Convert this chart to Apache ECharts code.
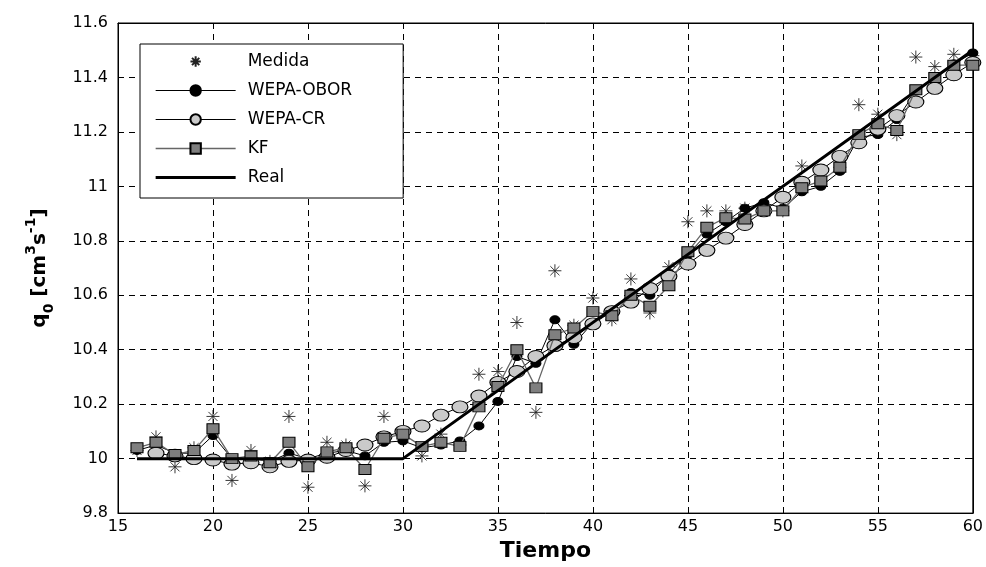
<!DOCTYPE html>
<html>
<head>
<meta charset="utf-8">
<script src="https://cdn.jsdelivr.net/npm/echarts@6/dist/echarts.min.js"></script>
<style>
html,body{margin:0;padding:0;background:#fff;}
#chart{width:986px;height:567px;}
</style>
</head>
<body>
<div id="chart"></div>
<script>
const tiempo = [16,17,18,19,20,21,22,23,24,25,26,27,28,29,30,31,32,33,34,35,36,37,38,39,40,41,42,43,44,45,46,47,48,49,50,51,52,53,54,55,56,57,58,59,60];
const medida = [10.03,10.08,9.97,10.04,10.155,9.92,10.03,9.99,10.155,9.895,10.06,10.05,9.90,10.155,10.08,10.01,10.09,10.05,10.31,10.32,10.50,10.17,10.69,10.49,10.59,10.51,10.66,10.535,10.705,10.87,10.91,10.91,10.92,10.93,10.91,11.075,11.02,11.07,11.30,11.265,11.19,11.475,11.44,11.485,11.48];
const wepaObor = [10.03,10.05,10.02,10.02,10.085,10.0,10.0,9.99,10.02,10.0,10.02,10.03,10.01,10.06,10.065,10.04,10.05,10.065,10.12,10.21,10.375,10.35,10.51,10.42,10.50,10.54,10.61,10.60,10.68,10.75,10.825,10.87,10.92,10.94,10.92,10.98,11.00,11.055,11.18,11.19,11.245,11.35,11.40,11.45,11.49];
const wepaCr = [null,10.02,10.01,10.00,9.995,9.98,9.985,9.97,9.99,9.995,10.005,10.03,10.05,10.08,10.10,10.12,10.16,10.19,10.23,10.28,10.32,10.375,10.415,10.445,10.495,10.54,10.575,10.625,10.67,10.715,10.765,10.81,10.86,10.91,10.96,11.015,11.06,11.11,11.16,11.21,11.26,11.31,11.36,11.41,11.455];
const kf = [10.04,10.06,10.015,10.03,10.11,10.0,10.01,9.985,10.06,9.97,10.025,10.04,9.96,10.075,10.09,10.045,10.06,10.045,10.19,10.265,10.40,10.26,10.455,10.48,10.54,10.525,10.60,10.56,10.635,10.76,10.85,10.885,10.88,10.91,10.91,10.995,11.02,11.07,11.19,11.23,11.205,11.355,11.40,11.445,11.445];
const realT = [16,30,60];
const realV = [10,10,11.5];
const seriesNames = ['Medida','WEPA-OBOR','WEPA-CR','KF','Real'];
const xTicks = {min:15,max:60,interval:5};
const yTicks = {min:9.8,max:11.6,interval:0.2};

const pair = (xs, ys) => xs.map((x,i) => [x, ys[i]]);
const FONT = 'DejaVu Sans';
const starPath = 'path://M10,0L10,20M0,10L20,10M3,3L17,17M3,17L17,3';
const realIcon = 'path://M0,0M0,5L80,5L80,8L0,8ZM80,13';

const chart = echarts.init(document.getElementById('chart'), null, {renderer:'canvas'});
chart.setOption({
  animation:false,
  backgroundColor:'#fff',
  grid:{left:118,right:13,top:23,bottom:52,show:true,borderColor:'#000',borderWidth:1,backgroundColor:'transparent'},
  legend:{
    orient:'vertical', left:140, top:44,
    itemWidth:80, itemHeight:13, itemGap:12,
    padding:[9,51,12,15],
    borderColor:'#000', borderWidth:1, backgroundColor:'#fff',
    lineStyle:{width:'inherit'},
    textStyle:{fontFamily:FONT,fontSize:17,color:'#000',padding:[0,0,0,7]},
    data:[
      {name:seriesNames[0]},
      {name:seriesNames[1]},
      {name:seriesNames[2]},
      {name:seriesNames[3]},
      {name:seriesNames[4], icon:realIcon}
    ]
  },
  xAxis:[{
    type:'value', min:xTicks.min, max:xTicks.max, interval:xTicks.interval,
    name:'Tiempo', nameLocation:'middle', nameGap:25,
    nameTextStyle:{fontFamily:FONT,fontWeight:'bold',fontSize:22,color:'#000'},
    axisLine:{show:true,lineStyle:{color:'#000',width:1}},
    axisTick:{show:true,inside:true,length:5,lineStyle:{color:'#000'}},
    axisLabel:{fontFamily:FONT,fontSize:16,color:'#000',margin:6},
    splitLine:{show:true,lineStyle:{color:'#000',type:[6,5],width:1}}
  },{
    type:'value', position:'top', min:xTicks.min, max:xTicks.max, interval:xTicks.interval,
    axisLine:{show:true,lineStyle:{color:'#000'}},
    axisTick:{show:true,inside:true,length:5,lineStyle:{color:'#000'}},
    axisLabel:{show:false}, splitLine:{show:false}
  }],
  yAxis:[{
    type:'value', min:yTicks.min, max:yTicks.max, interval:yTicks.interval,
    name:'{a|q}{s|0}{a| [cm}{p|3}{a|s}{p|-1}{a|]}', nameLocation:'middle', nameGap:62,
    nameTextStyle:{
      fontFamily:FONT,fontWeight:'bold',fontSize:20,color:'#000',
      rich:{
        a:{fontFamily:FONT,fontWeight:'bold',fontSize:20,color:'#000',lineHeight:32,verticalAlign:'middle'},
        s:{fontFamily:FONT,fontWeight:'bold',fontSize:14,color:'#000',lineHeight:14,verticalAlign:'bottom'},
        p:{fontFamily:FONT,fontWeight:'bold',fontSize:14,color:'#000',lineHeight:14,verticalAlign:'top'}
      }
    },
    axisLine:{show:true,lineStyle:{color:'#000',width:1}},
    axisTick:{show:true,inside:true,length:5,lineStyle:{color:'#000'}},
    axisLabel:{fontFamily:FONT,fontSize:16,color:'#000',margin:10,
      formatter:v => String(Math.round(v*10)/10)},
    splitLine:{show:true,lineStyle:{color:'#000',type:[6,5],width:1}}
  },{
    type:'value', position:'right', min:yTicks.min, max:yTicks.max, interval:yTicks.interval,
    axisLine:{show:true,lineStyle:{color:'#000'}},
    axisTick:{show:true,inside:true,length:5,lineStyle:{color:'#000'}},
    axisLabel:{show:false}, splitLine:{show:false}
  }],
  series:[
    {
      name:seriesNames[0], type:'line', data:pair(tiempo, medida),
      symbol:starPath, symbolSize:13, showSymbol:true,
      lineStyle:{width:0,opacity:0},
      itemStyle:{color:'#222',borderColor:'#222',borderWidth:0.9},
      z:2
    },
    {
      name:seriesNames[1], type:'line', data:pair(tiempo, wepaObor),
      symbol:'circle', symbolSize:[10,8],
      lineStyle:{color:'#000',width:1},
      itemStyle:{color:'#000',borderColor:'#000',borderWidth:1},
      z:3
    },
    {
      name:seriesNames[2], type:'line', data:pair(tiempo, wepaCr),
      symbol:'circle', symbolSize:[16,12],
      lineStyle:{color:'#000',width:1},
      itemStyle:{color:'#cacaca',borderColor:'#000',borderWidth:1},
      z:4
    },
    {
      name:seriesNames[3], type:'line', data:pair(tiempo, kf),
      symbol:'rect', symbolSize:[12,10],
      lineStyle:{color:'#666',width:1.3},
      itemStyle:{color:'#7f7f7f',borderColor:'#000',borderWidth:1},
      z:5
    },
    {
      name:seriesNames[4], type:'line', data:pair(realT, realV),
      symbol:'none', showSymbol:false,
      lineStyle:{color:'#000',width:3},
      itemStyle:{color:'#000'},
      z:6
    }
  ]
});
</script>
</body>
</html>
